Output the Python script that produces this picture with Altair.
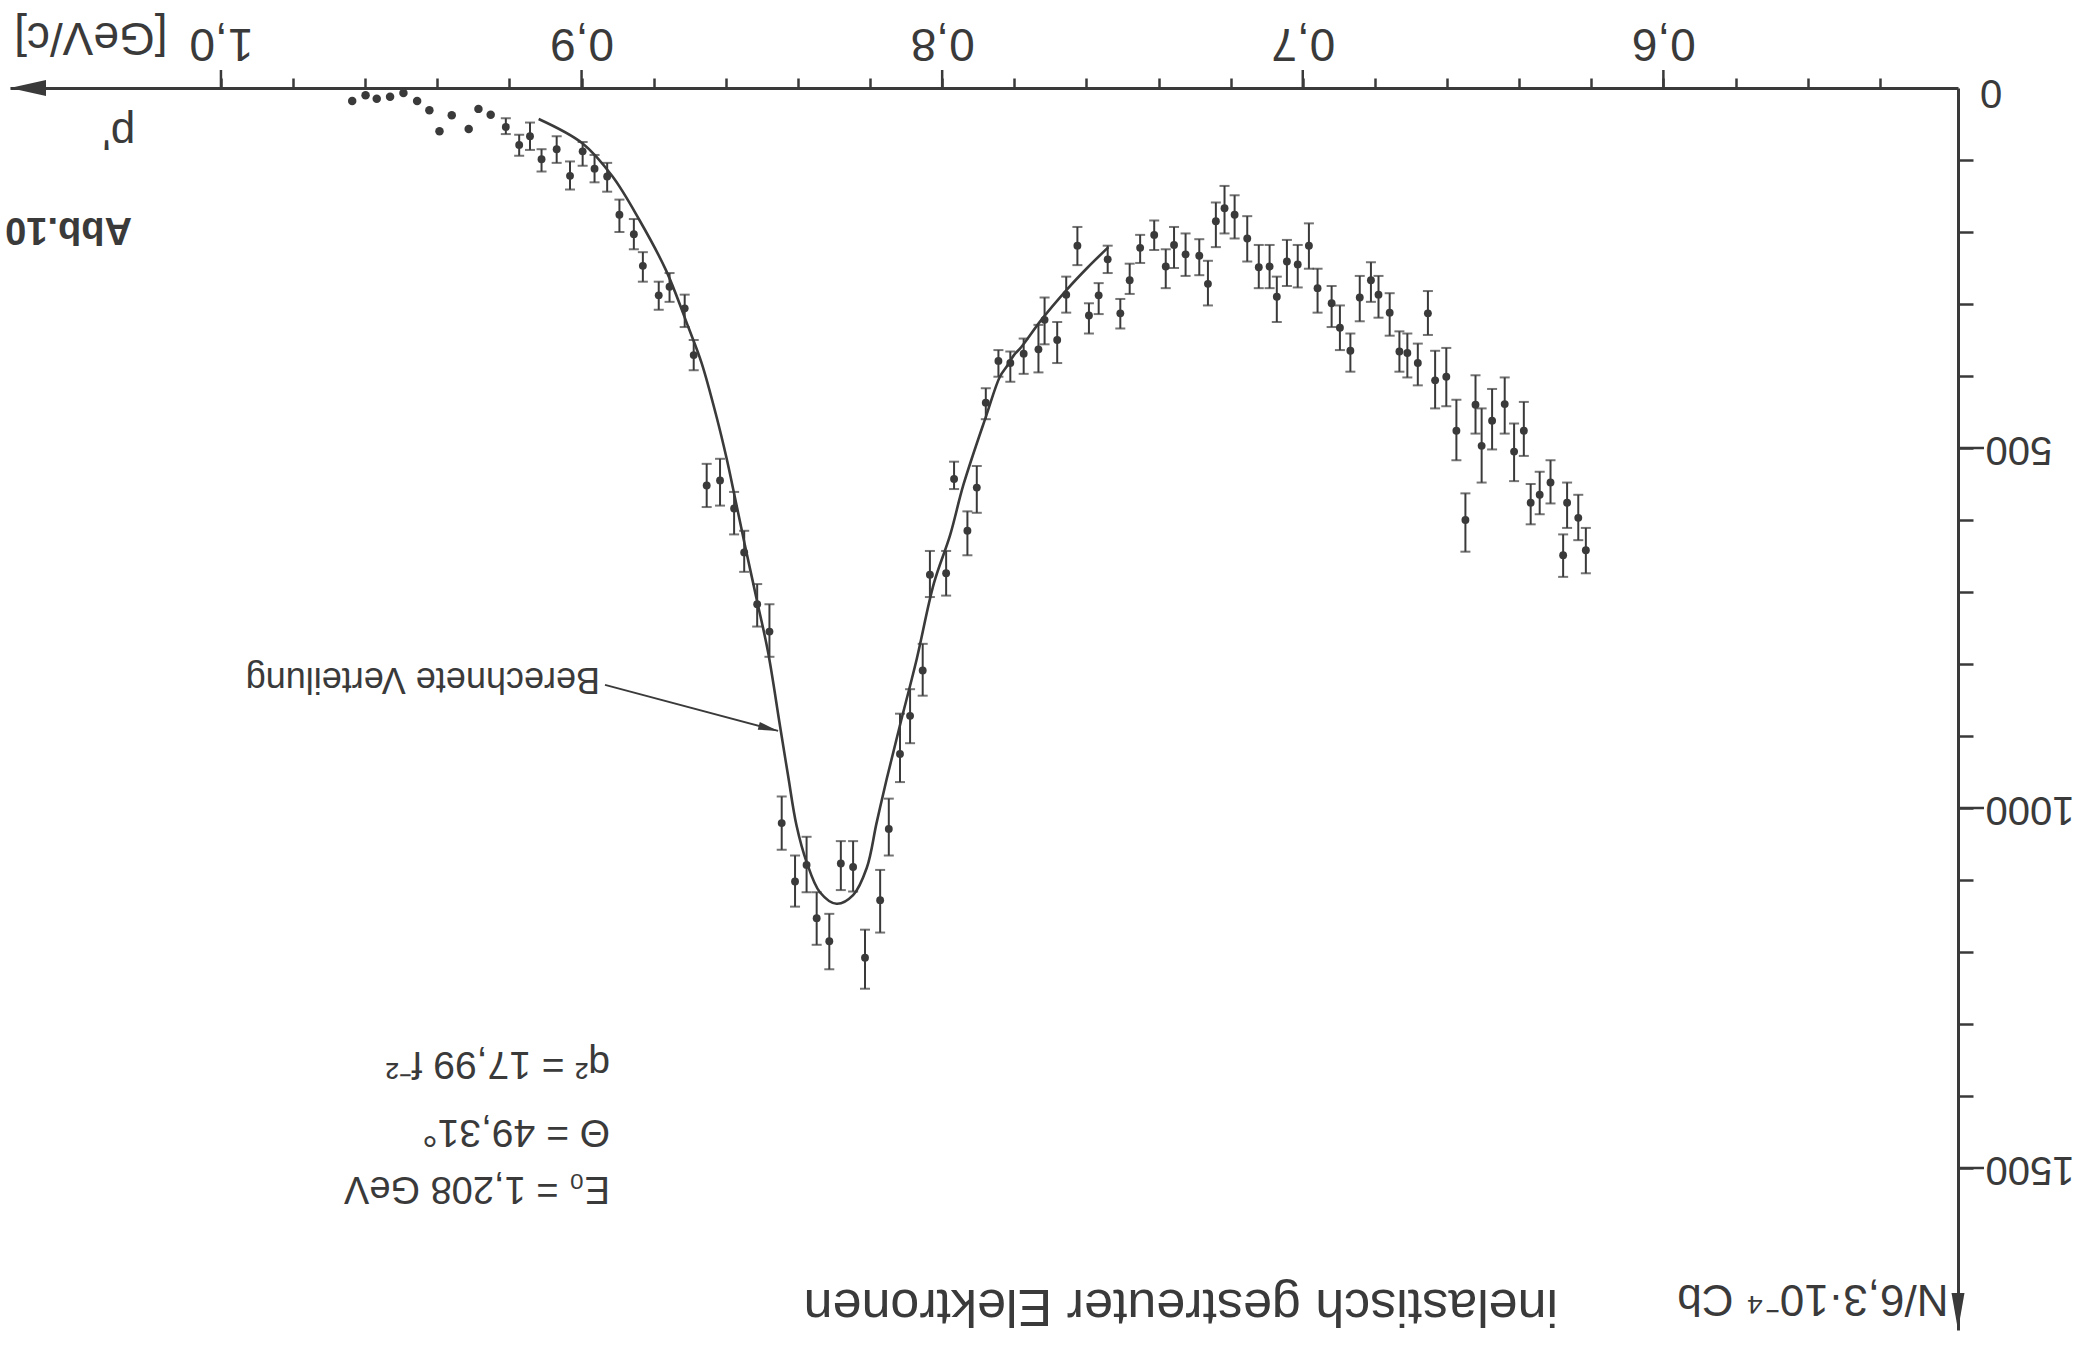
import altair as alt
import pandas as pd

# Momentum p' of the inelastically scattered electrons [GeV/c] and counts N
# (normalised to 6.3e-4 Cb).

# Points near the elastic edge, drawn without error bars
p_dots = [0.9636, 0.9599, 0.9568, 0.9531, 0.9494, 0.9456, 0.9422, 0.9394,
          0.9360, 0.9313, 0.9286, 0.9252]
n_dots = [18, 10, 15, 12, 7, 18, 31, 60, 38, 57, 29, 37]

# Measured points with statistical error bars
p_meas = [0.9210, 0.9173, 0.9143, 0.9111, 0.9069, 0.9032, 0.8997, 0.8964,
          0.8929, 0.8895, 0.8855, 0.8830, 0.8786, 0.8756, 0.8714, 0.8689,
          0.8653, 0.8616, 0.8577, 0.8549, 0.8513, 0.8479, 0.8445, 0.8408,
          0.8376, 0.8348, 0.8313, 0.8281, 0.8247, 0.8214, 0.8172, 0.8148,
          0.8117, 0.8089, 0.8054, 0.8034, 0.7989, 0.7967, 0.7930, 0.7904,
          0.7879, 0.7844, 0.7811, 0.7774, 0.7733, 0.7716, 0.7681, 0.7656,
          0.7625, 0.7593, 0.7566, 0.7541, 0.7506, 0.7480, 0.7451, 0.7412,
          0.7380, 0.7357, 0.7325, 0.7287, 0.7263, 0.7241, 0.7217, 0.7189,
          0.7154, 0.7122, 0.7092, 0.7072, 0.7044, 0.7014, 0.6983, 0.6959,
          0.6920, 0.6897, 0.6868, 0.6842, 0.6811, 0.6790, 0.6759, 0.6732,
          0.6710, 0.6681, 0.6653, 0.6633, 0.6602, 0.6574, 0.6549, 0.6521,
          0.6504, 0.6475, 0.6440, 0.6414, 0.6387, 0.6368, 0.6343, 0.6313,
          0.6278, 0.6267, 0.6236, 0.6215]
n_meas = [54, 79, 67, 99, 85, 122, 88, 112, 123, 176, 203, 247, 288, 276, 306,
          371, 552, 545, 584, 645, 717, 755, 1021, 1102, 1079, 1153, 1185,
          1077, 1082, 1208, 1128, 1029, 925, 872, 809, 676, 674, 543, 615, 555,
          437, 379, 382, 369, 363, 322, 350, 287, 219, 316, 288, 238, 313, 267,
          222, 204, 248, 218, 231, 233, 272, 185, 167, 176, 209, 249, 248, 290,
          241, 245, 219, 278, 299, 333, 365, 291, 267, 287, 312, 366, 368, 382,
          313, 406, 401, 476, 600, 440, 497, 462, 439, 505, 476, 576, 565, 548,
          649, 576, 597, 642]
n_low = [42, 65, 48, 85, 67, 102, 75, 93, 104, 155, 182, 228, 269, 257, 287,
         350, 522, 515, 561, 615, 689, 717, 984, 1066, 1040, 1117, 1147, 1046,
         1046, 1169, 1086, 987, 869, 835, 772, 643, 643, 519, 588, 525, 417,
         364, 366, 348, 329, 291, 325, 262, 193, 299, 271, 219, 293, 244, 204,
         184, 224, 193, 202, 210, 240, 159, 136, 149, 178, 218, 218, 262, 211,
         218, 188, 251, 275, 302, 341, 261, 242, 261, 285, 338, 341, 355, 282,
         365, 361, 433, 563, 399, 445, 418, 402, 466, 436, 550, 533, 517, 620,
         548, 565, 611]
n_high = [64, 94, 86, 116, 104, 141, 108, 131, 144, 200, 224, 269, 308, 297,
          332, 392, 582, 580, 620, 672, 748, 790, 1058, 1137, 1117, 1190, 1224,
          1114, 1116, 1251, 1173, 1066, 964, 910, 844, 707, 705, 557, 649, 590,
          460, 401, 408, 397, 395, 356, 382, 312, 246, 341, 314, 257, 334, 286,
          243, 225, 278, 250, 261, 260, 302, 221, 202, 209, 241, 278, 278, 325,
          275, 277, 251, 312, 332, 364, 394, 324, 297, 319, 344, 394, 402, 413,
          343, 445, 442, 517, 644, 480, 548, 502, 480, 546, 511, 606, 592, 577,
          679, 611, 628, 674]

# Calculated distribution ("Berechnete Verteilung")
p_calc = [0.9119, 0.8997, 0.8914, 0.8840, 0.8766, 0.8704, 0.8667, 0.8625,
          0.8598, 0.8575, 0.8547, 0.8514, 0.8483, 0.8450, 0.8427, 0.8404,
          0.8376, 0.8339, 0.8293, 0.8247, 0.8209, 0.8182, 0.8154, 0.8117,
          0.8071, 0.8023, 0.7978, 0.7941, 0.7877, 0.7840, 0.7820, 0.7801,
          0.7781, 0.7725, 0.7656, 0.7598, 0.7539]
n_calc = [43, 77, 123, 183, 253, 332, 382, 458, 514, 568, 635, 711, 783, 885,
          956, 1024, 1075, 1117, 1133, 1121, 1083, 1021, 960, 885, 794, 688,
          621, 551, 454, 401, 386, 371, 360, 322, 281, 250, 221]

# Axis extent and ticks
P_MIN, P_MAX = 0.5183, 1.0585
N_MAX = 1725
p_ticks = [round(0.54 + 0.02 * i, 2) for i in range(24)]
p_major = [0.6, 0.7, 0.8, 0.9, 1.0]
n_ticks = list(range(100, 1600, 100))
n_major = [500, 1000, 1500]

# Text annotations (anchored at the start of each upside-down line)
notes = [
    ("E\u2080 = 1,208 GeV", 0.8921, 1512, 38),
    ("\u0398 = 49,31\u00b0", 0.8921, 1433, 39),
    ("q\u00b2 = 17,99 f\u207b\u00b2", 0.8921, 1339, 39),
    ("Berechnete Verteilung", 0.8949, 806, 36),
    ("inelastisch gestreuter Elektronen", 0.6292, 1669, 52),
    ("p'", 1.0238, 43, 44),
]
figure_label = [("Abb.10", 1.0247, 181, 38)]
zero_label = [("0", 0.5122, 5, 40)]
pointer_p = [0.8935, 0.8455]
pointer_n = [829, 893]

W, H = 1948, 1242
INK = "#3a3a3a"
FONT = "Liberation Sans, Arial, sans-serif"

meas = pd.DataFrame({"p": p_meas, "N": n_meas, "lo": n_low, "hi": n_high})
caps = pd.DataFrame({"p": p_meas + p_meas, "N": n_low + n_high})
dots = pd.DataFrame({"p": p_dots, "N": n_dots})
calc = pd.DataFrame({"p": p_calc, "N": n_calc})
texts = pd.DataFrame(notes, columns=["txt", "p", "N", "size"])
bold_texts = pd.DataFrame(figure_label, columns=["txt", "p", "N", "size"])
zero_text = pd.DataFrame(zero_label, columns=["txt", "p", "N", "size"])
pointer = pd.DataFrame({"p": [pointer_p[0]], "N": [pointer_n[0]],
                        "p2": [pointer_p[1]], "N2": [pointer_n[1]]})
tip = pd.DataFrame({"p": [pointer_p[1]], "N": [pointer_n[1]]})
left_end = pd.DataFrame({"p": [P_MAX], "N": [0]})
bottom_end = pd.DataFrame({"p": [P_MIN], "N": [N_MAX]})
x_major = pd.DataFrame({"p": p_major})
y_major = pd.DataFrame({"N": n_major})

xs = alt.Scale(domain=[P_MIN, P_MAX], reverse=True, nice=False, zero=False)
ys = alt.Scale(domain=[0, N_MAX], reverse=True, nice=False, zero=False)

major_p = "abs(datum.value*10 - round(datum.value*10)) < 0.001"
x_axis = alt.Axis(
    orient="top", values=p_ticks, grid=False,
    domainColor=INK, domainWidth=3, tickColor=INK, tickWidth=2.5, tickSize=10,
    labelExpr=f"{major_p} ? replace(format(datum.value, '.1f'), '.', ',') : ''",
    labelAngle=180, labelAlign="center", labelBaseline="top", labelPadding=14,
    labelFont=FONT, labelFontSize=46, labelColor=INK, labelOverlap=False,
    labelFlush=False, labelBound=False,
    title="[GeV/c]", titleAngle=180, titleAlign="left",
    titleBaseline="alphabetic", titleX=157, titleY=-66, titleFont=FONT,
    titleFontSize=46, titleFontWeight="normal", titleColor=INK,
)
y_axis = alt.Axis(
    orient="right", values=n_ticks, grid=False,
    domainColor=INK, domainWidth=3, tickColor=INK, tickWidth=2.5, tickSize=15,
    labelExpr="datum.value % 500 == 0 ? format(datum.value, 'd') : ''",
    labelAngle=180, labelAlign="right", labelBaseline="middle", labelPadding=12,
    labelFont=FONT, labelFontSize=40, labelColor=INK, labelOverlap=False,
    labelFlush=False, labelBound=False,
    title="N/6,3\u00b710\u207b\u2074 Cb", titleAngle=180, titleAlign="left",
    titleBaseline="alphabetic", titleX=-10, titleY=1196, titleFont=FONT,
    titleFontSize=44, titleFontWeight="normal", titleColor=INK,
)

def X(field="p"):
    return alt.X(f"{field}:Q", scale=xs, axis=x_axis)

def Y(field="N"):
    return alt.Y(f"{field}:Q", scale=ys, axis=y_axis)

bars = alt.Chart(meas).mark_rule(color=INK, strokeWidth=2).encode(
    x=X(), y=Y("lo"), y2="hi:Q")

bar_caps = alt.Chart(caps).mark_tick(
    orient="horizontal", color=INK, size=10, thickness=2).encode(x=X(), y=Y())

points = alt.Chart(meas).mark_point(
    shape="circle", filled=True, color=INK, size=62, opacity=1).encode(x=X(), y=Y())

edge_dots = alt.Chart(dots).mark_point(
    shape="circle", filled=True, color=INK, size=72, opacity=1).encode(x=X(), y=Y())

curve = alt.Chart(calc).mark_line(
    color=INK, strokeWidth=2.6, interpolate="catmull-rom").encode(x=X(), y=Y())

pointer_line = alt.Chart(pointer).mark_rule(color=INK, strokeWidth=1.8).encode(
    x=X(), y=Y(), x2="p2:Q", y2="N2:Q")

pointer_head = alt.Chart(tip).mark_point(
    shape="M 0 0 L -2 -0.4 L -2 0.4 Z", filled=True, color=INK, size=400,
    angle=15, opacity=1).encode(x=X(), y=Y())

labels = alt.Chart(texts).mark_text(
    angle=180, align="left", baseline="alphabetic", font=FONT, color=INK).encode(
    x=X(), y=Y(), text="txt:N",
    size=alt.Size("size:Q", scale=None, legend=None))

bold_labels = alt.Chart(bold_texts).mark_text(
    angle=180, align="left", baseline="alphabetic", font=FONT, color=INK,
    fontWeight="bold").encode(
    x=X(), y=Y(), text="txt:N",
    size=alt.Size("size:Q", scale=None, legend=None))

origin_label = alt.Chart(zero_text).mark_text(
    angle=180, align="right", baseline="middle", font=FONT, color=INK).encode(
    x=X(), y=Y(), text="txt:N",
    size=alt.Size("size:Q", scale=None, legend=None))

# longer ticks at the labelled values
x_major_ticks = alt.Chart(x_major).mark_rule(color=INK, strokeWidth=2.5).encode(
    x=X(), y=alt.value(-18), y2=alt.value(0))

y_major_ticks = alt.Chart(y_major).mark_rule(color=INK, strokeWidth=2.5).encode(
    y=Y(), x=alt.value(W), x2=alt.value(W + 26))

arrow_left = alt.Chart(left_end).mark_point(
    shape="M 0 0 L 2 -0.45 L 2 0.45 Z", filled=True, color=INK, size=1296,
    opacity=1).encode(x=X(), y=Y())

arrow_down = alt.Chart(bottom_end).mark_point(
    shape="M 0 0 L -0.35 -2 L 0.35 -2 Z", filled=True, color=INK, size=1369,
    opacity=1).encode(x=X(), y=Y())

chart = alt.layer(
    bars, bar_caps, points, edge_dots, curve, pointer_line, pointer_head,
    labels, bold_labels, origin_label, x_major_ticks, y_major_ticks,
    arrow_left, arrow_down,
).properties(
    width=W, height=H,
    autosize=alt.AutoSizeParams(type="none"),
    padding={"left": 10, "top": 88, "right": 120, "bottom": 20},
    background="white",
).configure_view(stroke=None)

chart.save("out.html", embed_options={"renderer": "svg", "actions": False})
